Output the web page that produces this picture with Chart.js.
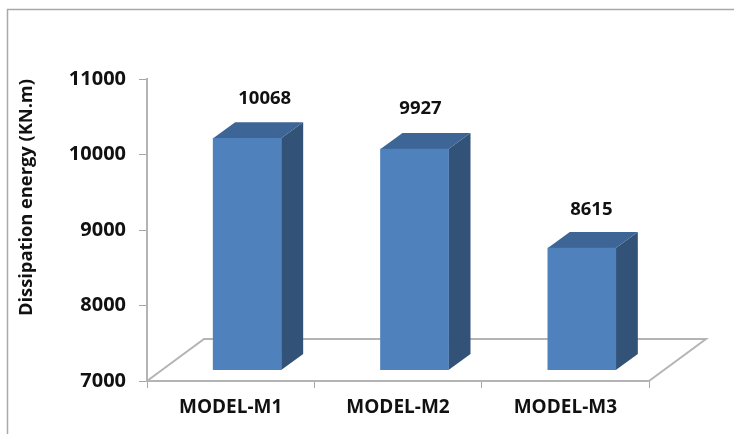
<!DOCTYPE html>
<html>
<head>
<meta charset="utf-8">
<style>html,body{margin:0;padding:0;background:#fff}#w{width:734px;height:434px;position:relative}</style>
<script src="https://cdn.jsdelivr.net/npm/chart.js@4/dist/chart.umd.min.js"></script>
</head>
<body>
<div id="w"><canvas id="c" width="734" height="434"></canvas></div>
<script>
const categories = ["MODEL-M1", "MODEL-M2", "MODEL-M3"];
const dissipationEnergy = [10068, 9927, 8615];
const yTicks = [7000, 8000, 9000, 10000, 11000];
const yAxisTitle = "Dissipation energy (KN.m)";

const FONT = "'Open Sans', sans-serif";
const SHIFT = {x: 16.5, y: -11};
const DEPTH = {x: 22, y: -16};
const FLOOR = {x: 57, y: -42};
const LABEL_DX = [17.5, 6, 9.5];
const LABEL_DY = [-40, -40, -38];

const scene3d = {
  id: "scene3d",
  beforeDraw(chart) {
    const c = chart.ctx;
    c.save();
    c.strokeStyle = "#a9a9a9"; c.lineWidth = 1.5;
    c.beginPath(); c.moveTo(7.5, 434); c.lineTo(7.5, 9.5); c.lineTo(734, 9.5); c.stroke();
    c.restore();
  },
  beforeDatasetsDraw(chart) {
    const c = chart.ctx, a = chart.chartArea;
    c.save();
    c.strokeStyle = "#b4b4b4"; c.lineWidth = 2;
    c.beginPath();
    c.moveTo(a.left, a.bottom);
    c.lineTo(a.left + FLOOR.x, a.bottom + FLOOR.y);
    c.lineTo(a.right + FLOOR.x, a.bottom + FLOOR.y);
    c.lineTo(a.right, a.bottom);
    c.stroke();
    c.restore();
    const meta = chart.getDatasetMeta(0);
    const baseY = chart.scales.y.getPixelForValue(chart.scales.y.min);
    c.save();
    meta.data.forEach(b => {
      const l = b.x - b.width / 2 + SHIFT.x, r = b.x + b.width / 2 + SHIFT.x;
      const t = b.y + SHIFT.y, bt = baseY + SHIFT.y;
      c.fillStyle = "#325277";
      c.beginPath();
      c.moveTo(r, t); c.lineTo(r + DEPTH.x, t + DEPTH.y);
      c.lineTo(r + DEPTH.x, bt + DEPTH.y); c.lineTo(r, bt);
      c.closePath(); c.fill();
      c.fillStyle = "#3d6595";
      c.beginPath();
      c.moveTo(l, t); c.lineTo(l + DEPTH.x, t + DEPTH.y);
      c.lineTo(r + DEPTH.x, t + DEPTH.y); c.lineTo(r, t);
      c.closePath(); c.fill();
    });
    c.restore();
    c.save();
    c.translate(SHIFT.x, SHIFT.y);
  },
  afterDatasetsDraw(chart) {
    const c = chart.ctx;
    c.restore();
    c.save();
    c.fillStyle = "#111";
    c.font = "bold 18.5px " + FONT;
    c.textAlign = "center"; c.textBaseline = "middle";
    chart.getDatasetMeta(0).data.forEach((b, i) => {
      c.fillText(String(dissipationEnergy[i]), b.x + SHIFT.x + LABEL_DX[i], b.y + SHIFT.y + LABEL_DY[i]);
    });
    c.restore();
  }
};

new Chart(document.getElementById("c"), {
  type: "bar",
  data: {
    labels: categories,
    datasets: [{
      data: dissipationEnergy,
      backgroundColor: "#4f81bd",
      borderWidth: 0,
      barThickness: 68
    }]
  },
  options: {
    responsive: false,
    animation: false,
    layout: {padding: {top: 79, right: 85, left: 0, bottom: 0}},
    plugins: {legend: {display: false}, tooltip: {enabled: false}},
    scales: {
      x: {
        afterFit(s) { s.height = 53; },
        grid: {display: true, drawOnChartArea: false, drawTicks: true, tickLength: 7, color: "#a6a6a6", offset: true},
        border: {display: true, color: "#b4b4b4", width: 2},
        ticks: {color: "#111", font: {family: FONT, size: 19, weight: "bold"}, padding: 8, maxRotation: 0}
      },
      y: {
        min: 7000, max: 11000,
        afterFit(s) { s.width = 147; },
        afterBuildTicks(s) { s.ticks = yTicks.map(v => ({value: v})); },
        grid: {display: true, drawOnChartArea: false, drawTicks: true, tickLength: 8, color: "#a6a6a6"},
        border: {display: true, color: "#b4b4b4", width: 2},
        title: {display: true, text: yAxisTitle, align: "end", color: "#111", font: {family: FONT, size: 18.3, weight: "bold"}, padding: {top: 16, bottom: 0}},
        ticks: {color: "#111", font: {family: FONT, size: 20, weight: "bold"}, padding: 13, callback: v => String(v)}
      }
    }
  },
  plugins: [scene3d]
});
</script>
</body>
</html>
